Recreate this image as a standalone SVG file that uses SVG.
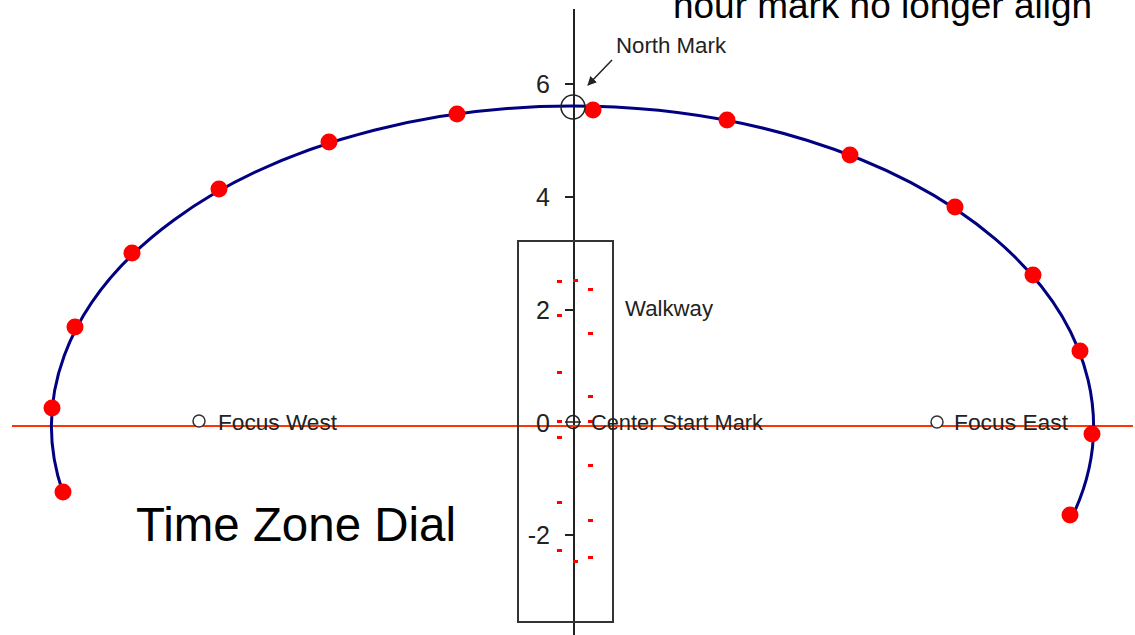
<svg xmlns="http://www.w3.org/2000/svg" width="1135" height="635" viewBox="0 0 1135 635">
<defs>
<style>
.lbl{font-family:"Liberation Sans",Arial,sans-serif;font-size:22px;fill:#222}
.tick{font-family:"Liberation Sans",Arial,sans-serif;font-size:25px;fill:#222;text-anchor:end}
.big{font-family:"Liberation Sans",Arial,sans-serif;fill:#000}
.ax{stroke:#222;stroke-width:2;fill:none}
.hr{fill:#ff0000}
.wd{fill:#ff0000}
.oc{fill:#fff;stroke:#333;stroke-width:1.5}
</style>
<marker id="ah" viewBox="0 0 10 10" refX="9" refY="5" markerWidth="9" markerHeight="9" markerUnits="userSpaceOnUse" orient="auto">
<path d="M0,0 L10,5 L0,10 z" fill="#222"/>
</marker>
</defs>
<rect width="1135" height="635" fill="#fff"/>

<g id="title-top">
<text class="big" x="673" y="18" font-size="36" textLength="419" lengthAdjust="spacingAndGlyphs">hour mark no longer align</text>
</g>

<g id="axes">
<line class="ax" x1="574" y1="9" x2="574" y2="635"/>
<line x1="12" y1="426" x2="1133" y2="426" stroke="#ff3300" stroke-width="2"/>
<line class="ax" x1="565" y1="84" x2="574" y2="84"/>
<line class="ax" x1="565" y1="197" x2="574" y2="197"/>
<line class="ax" x1="565" y1="310" x2="574" y2="310"/>
<line class="ax" x1="565" y1="535" x2="574" y2="535"/>
<text class="tick" x="550" y="93">6</text>
<text class="tick" x="550" y="206">4</text>
<text class="tick" x="550" y="319">2</text>
<text class="tick" x="550" y="432">0</text>
<text class="tick" x="550" y="544">-2</text>
</g>

<g id="walkway">
<rect x="518" y="241" width="95" height="381" fill="none" stroke="#333" stroke-width="2"/>
<g>
<rect class="wd" x="557" y="280" width="5" height="3"/>
<rect class="wd" x="573" y="279" width="5" height="3"/>
<rect class="wd" x="588" y="288" width="5" height="3"/>
<rect class="wd" x="557" y="314" width="5" height="3"/>
<rect class="wd" x="588" y="332" width="5" height="3"/>
<rect class="wd" x="557" y="371" width="5" height="3"/>
<rect class="wd" x="588" y="395" width="5" height="3"/>
<rect class="wd" x="557" y="420" width="5" height="3"/>
<rect class="wd" x="588" y="420" width="5" height="3"/>
<rect class="wd" x="557" y="436" width="5" height="3"/>
<rect class="wd" x="588" y="464" width="5" height="3"/>
<rect class="wd" x="557" y="501" width="5" height="3"/>
<rect class="wd" x="588" y="519" width="5" height="3"/>
<rect class="wd" x="557" y="549" width="5" height="3"/>
<rect class="wd" x="573" y="560" width="5" height="3"/>
<rect class="wd" x="588" y="556" width="5" height="3"/>
</g>
<text class="lbl" x="625" y="316" textLength="88" lengthAdjust="spacingAndGlyphs">Walkway</text>
</g>

<g id="dial-curve">
<path d="M 62.7 492 A 521 320 0 1 1 1072.5 516" fill="none" stroke="#000080" stroke-width="3"/>
</g>

<g id="hour-marks">
<circle class="hr" cx="63" cy="492" r="8.5"/>
<circle class="hr" cx="52" cy="408" r="8.5"/>
<circle class="hr" cx="75" cy="327" r="8.5"/>
<circle class="hr" cx="132" cy="253" r="8.5"/>
<circle class="hr" cx="219" cy="189" r="8.5"/>
<circle class="hr" cx="329" cy="142" r="8.5"/>
<circle class="hr" cx="457" cy="114" r="8.5"/>
<circle class="hr" cx="593" cy="110" r="8.5"/>
<circle class="hr" cx="727" cy="120" r="8.5"/>
<circle class="hr" cx="850" cy="155" r="8.5"/>
<circle class="hr" cx="955" cy="207" r="8.5"/>
<circle class="hr" cx="1033" cy="275" r="8.5"/>
<circle class="hr" cx="1080" cy="351" r="8.5"/>
<circle class="hr" cx="1092" cy="434" r="8.5"/>
<circle class="hr" cx="1070" cy="515" r="8.5"/>
</g>

<g id="north-mark">
<circle cx="573" cy="107" r="12" fill="none" stroke="#222" stroke-width="1.5"/>
<line x1="612" y1="60" x2="588" y2="85" stroke="#222" stroke-width="1.5" marker-end="url(#ah)"/>
<text class="lbl" x="616" y="53" textLength="110" lengthAdjust="spacingAndGlyphs">North Mark</text>
</g>

<g id="center-start">
<circle cx="573" cy="422" r="6.5" fill="none" stroke="#222" stroke-width="1.5"/>
<line x1="565" y1="422" x2="581" y2="422" stroke="#222" stroke-width="1.5"/>
<text class="lbl" x="591" y="430" textLength="172" lengthAdjust="spacingAndGlyphs">Center Start Mark</text>
</g>

<g id="focus-west">
<circle class="oc" cx="199" cy="421" r="6"/>
<text class="lbl" x="218" y="430" textLength="119" lengthAdjust="spacingAndGlyphs">Focus West</text>
</g>

<g id="focus-east">
<circle class="oc" cx="937" cy="422" r="6"/>
<text class="lbl" x="954" y="430" textLength="114" lengthAdjust="spacingAndGlyphs">Focus East</text>
</g>

<g id="dial-title">
<text class="big" x="136" y="541" font-size="48" textLength="320" lengthAdjust="spacingAndGlyphs">Time Zone Dial</text>
</g>
</svg>
